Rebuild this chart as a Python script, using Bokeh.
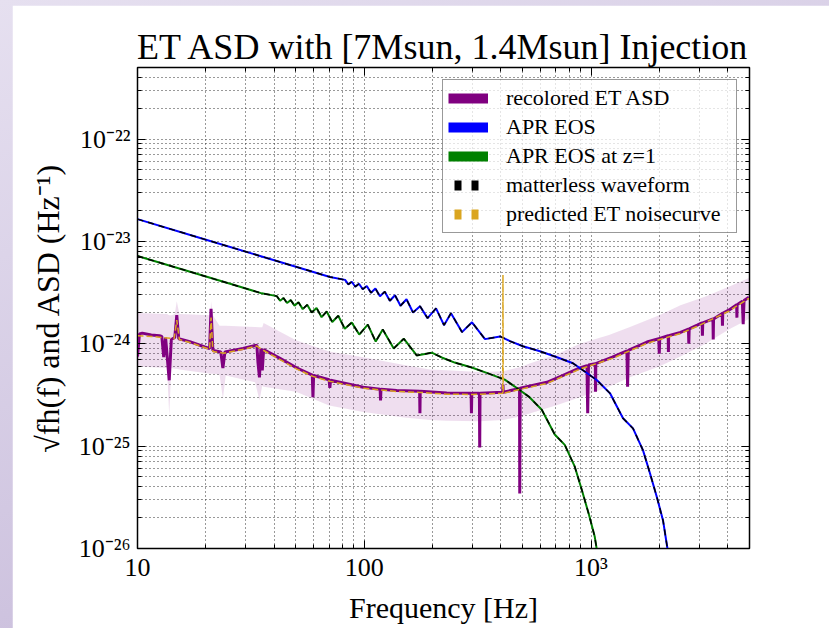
from bokeh.plotting import figure
from bokeh.models import (FixedTicker, CustomJSTickFormatter,
                          LogAxis, Legend, LegendItem, Range1d)
from bokeh.layouts import column
from bokeh.embed import file_html
from bokeh.resources import INLINE

# ---------------- data ----------------
title_text = "ET ASD with [7Msun, 1.4Msun] Injection"
x_label = "Frequency [Hz]"
y_label = "\u221afh(f) and ASD (Hz\u207b\u00b9)"
series_labels = ["recolored ET ASD", "APR EOS", "APR EOS at z=1",
                 "matterless waveform", "predicted ET noisecurve"]

x_major = [10, 100, 1000]
y_major = [1e-26, 1e-25, 1e-24, 1e-23, 1e-22]

# APR EOS (blue) and matterless waveform (black dashed on top of it)
apr_f = [10.0, 18.9, 34.7, 52.1, 70.6, 82.3, 85.1, 88.1, 91.3, 94.8,
         98.5, 102.6, 107.1, 112.0, 117.3, 123.2, 129.7, 136.6, 144.5, 153.6,
         164.1, 176.2, 190.1, 207.3, 224.7, 241.3, 269.8, 298.7, 340.8, 396.9,
         439.3, 501, 595.8, 708, 833, 922, 1063, 1213, 1384, 1532,
         1696, 1821, 1954, 2078, 2163, 2231]
apr_v = [1.65e-23, 1.08e-23, 7.21e-24, 5.50e-24, 4.49e-24, 4.21e-24, 3.80e-24, 4.04e-24, 3.61e-24, 3.86e-24,
         3.41e-24, 3.67e-24, 3.15e-24, 3.46e-24, 2.91e-24, 3.23e-24, 2.63e-24, 2.98e-24, 2.35e-24, 2.72e-24,
         2.02e-24, 2.33e-24, 1.78e-24, 2.22e-24, 1.52e-24, 1.99e-24, 1.30e-24, 1.62e-24, 1.11e-24, 1.18e-24,
         1.06e-24, 9.45e-25, 8.45e-25, 7.38e-25, 6.45e-25, 5.51e-25, 4.40e-25, 3.28e-25, 1.87e-25, 1.49e-25,
         9.09e-26, 5.41e-26, 3.15e-26, 1.88e-26, 1.07e-26, 6.82e-27]

# APR EOS at z=1 (green) and its matterless waveform
aprz_f = [10.0, 17.35, 26.05, 35.3, 41.15, 42.55, 44.05, 45.65, 47.4, 49.25,
          51.3, 53.55, 56.0, 58.65, 61.6, 64.85, 68.3, 72.25, 76.8, 82.05,
          88.1, 95.05, 103.65, 112.35, 120.65, 134.9, 149.35, 170.4, 198.45, 219.65,
          250.5, 297.9, 354, 416.5, 461, 531.5, 606.5, 692, 766, 848,
          910.5, 977, 1039, 1081.5, 1115.5]
aprz_v = [7.20e-24, 5.00e-24, 3.81e-24, 3.11e-24, 2.92e-24, 2.63e-24, 2.80e-24, 2.50e-24, 2.67e-24, 2.36e-24,
          2.54e-24, 2.18e-24, 2.40e-24, 2.02e-24, 2.24e-24, 1.82e-24, 2.07e-24, 1.63e-24, 1.88e-24, 1.40e-24,
          1.61e-24, 1.23e-24, 1.54e-24, 1.05e-24, 1.38e-24, 9.01e-25, 1.12e-24, 7.69e-25, 8.18e-25, 7.35e-25,
          6.55e-25, 5.86e-25, 5.11e-25, 4.47e-25, 3.82e-25, 3.05e-25, 2.27e-25, 1.30e-25, 1.03e-25, 6.30e-26,
          3.75e-26, 2.18e-26, 1.30e-26, 7.42e-27, 4.73e-27]

# recolored ET ASD (purple)
asd_f = [10.0, 10.2, 10.5, 11.5, 12.5, 12.8, 13.05, 13.3, 13.8, 14.1,
         14.6, 14.9, 15.2, 17.0, 19.8, 20.8, 21.1, 21.5, 23.3, 23.8,
         24.3, 29.2, 33.6, 34.0, 34.5, 35.0, 35.5, 36.0, 42.5, 50.5,
         59.0, 59.4, 59.8, 70.0, 70.5, 71.0, 99.0, 117.5, 118.0, 118.5,
         139.0, 175.5, 176.0, 176.5, 231.0, 296.0, 297.0, 298.0, 322.0, 323.0,
         324.0, 408.0, 409.0, 410.0, 484.0, 485.0, 487.0, 639.0, 753.0, 893.0,
         960.0, 967.0, 975.0, 1045.0, 1047.0, 1050.0, 1242.0, 1440.0, 1450.0, 1460.0,
         1766.0, 1990.0, 2000.0, 2010.0, 2190.0, 2195.0, 2200.0, 2480.0, 2690.0, 2700.0,
         2710.0, 2940.0, 3090.0, 3100.0, 3110.0, 3450.0, 3460.0, 3470.0, 3790.0, 3800.0,
         3810.0, 4050.0, 4390.0, 4400.0, 4410.0, 4650.0, 4690.0, 4730.0, 4970.0]
asd_v = [7.5e-25, 1.25e-24, 1.27e-24, 1.22e-24, 1.20e-24, 1.18e-24, 7.4e-25, 1.15e-24, 4.4e-25, 1.10e-24,
         1.15e-24, 1.9e-24, 1.12e-24, 1.05e-24, 9.3e-25, 9.0e-25, 2.2e-24, 8.6e-25, 8.3e-25, 5.8e-25,
         8.3e-25, 9.0e-25, 9.7e-25, 6.5e-25, 4.7e-25, 9.0e-25, 5.5e-25, 8.8e-25, 7.2e-25, 5.8e-25,
         4.95e-25, 3.0e-25, 4.9e-25, 4.45e-25, 3.7e-25, 4.4e-25, 3.76e-25, 3.6e-25, 2.8e-25, 3.6e-25,
         3.5e-25, 3.43e-25, 2.1e-25, 3.43e-25, 3.3e-25, 3.28e-25, 2.1e-25, 3.28e-25, 3.28e-25, 9.7e-26,
         3.28e-25, 3.36e-25, 4.0e-25, 3.36e-25, 3.66e-25, 3.45e-26, 3.68e-25, 4.2e-25, 4.9e-25, 5.8e-25,
         6.1e-25, 2.1e-25, 6.2e-25, 6.4e-25, 3.4e-25, 6.4e-25, 7.4e-25, 8.5e-25, 3.8e-25, 8.6e-25,
         1.04e-24, 1.12e-24, 8.0e-25, 1.13e-24, 1.2e-24, 8.3e-25, 1.2e-24, 1.29e-24, 1.39e-24, 1.0e-24,
         1.4e-24, 1.52e-24, 1.6e-24, 1.2e-24, 1.6e-24, 1.75e-24, 1.1e-24, 1.75e-24, 1.98e-24, 1.5e-24,
         1.98e-24, 2.13e-24, 2.4e-24, 1.8e-24, 2.4e-24, 2.6e-24, 1.55e-24, 2.65e-24, 2.85e-24]

# predicted ET noise curve (goldenrod dashed)
pred_f = [10.0, 12.0, 14.5, 14.9, 15.3, 17.0, 20.0, 20.8, 21.1, 21.5,
          24.0, 29.0, 33.6, 36.0, 42.5, 50.5, 59.4, 70.5, 99.0, 139.0,
          176.0, 231.0, 300.0, 408.0, 409.0, 410.0, 485.0, 639.0, 753.0, 893.0,
          1242.0, 1766.0, 2480.0, 2940.0, 4050.0, 4970.0]
pred_v = [1.2e-24, 1.17e-24, 1.12e-24, 1.7e-24, 1.1e-24, 1.03e-24, 9.1e-25, 8.8e-25, 1.8e-24, 8.4e-25,
          8.1e-25, 8.8e-25, 9.5e-25, 8.6e-25, 7.0e-25, 5.65e-25, 4.8e-25, 4.3e-25, 3.68e-25, 3.42e-25,
          3.35e-25, 3.22e-25, 3.2e-25, 3.28e-25, 4.7e-24, 3.28e-25, 3.58e-25, 4.1e-25, 4.8e-25, 5.65e-25,
          7.2e-25, 1.01e-24, 1.26e-24, 1.48e-24, 2.08e-24, 2.78e-24]

# spread of the ASD realisations (light purple band)
band_f = [10.0, 13.5, 13.8, 14.1, 14.6, 14.9, 15.3, 21.0, 21.1, 21.5,
          23.0, 23.8, 24.5, 33.0, 34.5, 35.5, 36.0, 50.0, 70.0, 99.0,
          150.0, 195.0, 231.0, 323.0, 408.0, 409.0, 410.0, 484.0, 485.0, 487.0,
          536.0, 700.0, 893.0, 1200.0, 1485.0, 2000.0, 2480.0, 3200.0, 4050.0, 4970.0]
band_hi = [2.0e-24, 1.95e-24, 1.9e-24, 1.9e-24, 1.95e-24, 2.6e-24, 1.95e-24, 1.9e-24, 2.6e-24, 1.9e-24,
           1.5e-24, 1.5e-24, 1.5e-24, 1.46e-24, 1.45e-24, 1.45e-24, 1.6e-24, 1.08e-24, 8.4e-25, 7.4e-25,
           6.2e-25, 5.6e-25, 5.5e-25, 5.3e-25, 5.4e-25, 4.7e-24, 5.4e-25, 5.9e-25, 5.9e-25, 5.9e-25,
           6.4e-25, 7.8e-25, 1.0e-24, 1.22e-24, 1.46e-24, 1.9e-24, 2.38e-24, 2.9e-24, 3.6e-24, 4.4e-24]
band_lo = [6.0e-25, 5.8e-25, 2.0e-25, 5.8e-25, 5.7e-25, 5.7e-25, 5.6e-25, 5.1e-25, 5.1e-25, 5.1e-25,
           5.0e-25, 2.9e-25, 4.9e-25, 4.2e-25, 2.8e-25, 3.9e-25, 3.8e-25, 3.4e-25, 2.5e-25, 2.15e-25,
           1.9e-25, 1.8e-25, 1.77e-25, 1.75e-25, 1.8e-25, 1.8e-25, 1.8e-25, 1.95e-25, 4.0e-26, 1.95e-25,
           2.08e-25, 2.5e-25, 3.0e-25, 3.8e-25, 4.7e-25, 6.0e-25, 7.5e-25, 1.0e-24, 1.38e-24, 1.75e-24]

# ---------------- styling ----------------
SERIF = "Liberation Serif"
PURPLE = "#800080"
BLUE = "#0000ff"
GREEN = "#008000"
GOLD = "#daa520"

x_minor = [k * 10.0 ** e for e in range(1, 4) for k in range(2, 10)]
y_minor = [k * 10.0 ** e for e in range(-26, -21) for k in range(2, 10)]
x_ticker = FixedTicker(ticks=x_major, minor_ticks=x_minor)
y_ticker = FixedTicker(ticks=y_major, minor_ticks=y_minor)

SUP = """const sup = {"-":"\u207b","0":"\u2070","1":"\u00b9","2":"\u00b2","3":"\u00b3",
"4":"\u2074","5":"\u2075","6":"\u2076","7":"\u2077","8":"\u2078","9":"\u2079"};"""
x_fmt = CustomJSTickFormatter(code=SUP + """
const e = Math.round(Math.log10(tick));
if (e <= 2) { return String(Math.round(tick)); }
return "10" + String(e).split("").map(c => sup[c]).join("");
""")
y_fmt = CustomJSTickFormatter(code=SUP + """
const e = Math.round(Math.log10(tick));
return "10" + String(e).split("").map(c => sup[c]).join("");
""")
blank_fmt = CustomJSTickFormatter(code="return '';")

p = figure(x_axis_type="log", y_axis_type="log",
           x_range=Range1d(10, 5000), y_range=Range1d(1e-26, 5e-22),
           frame_width=612, frame_height=481,
           min_border_left=125, min_border_right=80,
           min_border_top=62, min_border_bottom=80,
           output_backend="svg", toolbar_location=None,
           title=title_text, margin=(5, 0, 0, 12))

p.background_fill_color = "white"
p.border_fill_color = "white"
p.outline_line_color = "black"
p.outline_line_width = 1.5

p.title.text_font = SERIF
p.title.text_font_size = "36px"
p.title.text_font_style = "normal"
p.title.text_color = "black"
p.title.align = "center"
p.title.standoff = 2

xa = p.xaxis[0]
ya = p.yaxis[0]
xa.ticker = x_ticker
ya.ticker = y_ticker
xa.formatter = x_fmt
ya.formatter = y_fmt
xa.axis_label = x_label
ya.axis_label = y_label
for ax in (xa, ya):
    ax.major_tick_in = 8
    ax.major_tick_out = 0
    ax.minor_tick_in = 4
    ax.minor_tick_out = 0
    ax.axis_line_color = "black"
    ax.major_tick_line_color = "black"
    ax.minor_tick_line_color = "black"
    ax.major_label_text_font = SERIF
    ax.major_label_text_font_size = "26px"
    ax.major_label_text_color = "black"
    ax.axis_label_text_font = SERIF
    ax.axis_label_text_font_style = "normal"
    ax.axis_label_text_color = "black"
xa.axis_label_text_font_size = "30px"
ya.axis_label_text_font_size = "32px"
xa.major_label_standoff = 4
ya.major_label_standoff = 7
xa.axis_label_standoff = 6
ya.axis_label_standoff = 10

for side, tk in (("above", x_ticker), ("right", y_ticker)):
    extra = LogAxis(ticker=tk, formatter=blank_fmt,
                    major_tick_in=8, major_tick_out=0,
                    minor_tick_in=4, minor_tick_out=0,
                    major_label_text_font_size="1px", major_label_standoff=0,
                    axis_line_color="black")
    p.add_layout(extra, side)

p.xgrid.ticker = x_ticker
p.ygrid.ticker = y_ticker
for g in (p.xgrid, p.ygrid):
    g.grid_line_color = "#333333"
    g.grid_line_dash = "1 3"
    g.grid_line_width = 1
    g.minor_grid_line_color = "#333333"
    g.minor_grid_line_dash = "1 3"
    g.minor_grid_line_width = 1

# ---------------- glyphs ----------------
p.varea(x=band_f, y1=band_lo, y2=band_hi, fill_color=PURPLE, fill_alpha=0.13)
p.line(asd_f, asd_v, line_color=PURPLE, line_width=3)
p.line(apr_f, apr_v, line_color=BLUE, line_width=2)
p.line(aprz_f, aprz_v, line_color=GREEN, line_width=2)
p.line(apr_f, apr_v, line_color="black", line_width=1.5, line_dash="6 5")
p.line(aprz_f, aprz_v, line_color="black", line_width=1.5, line_dash="6 5")
p.line(pred_f, pred_v, line_color=GOLD, line_width=1.5, line_dash="6 3")

# legend handles: thick one-point samples (draw nothing in the frame)
h1 = p.line(asd_f[:1], asd_v[:1], line_color=PURPLE, line_width=10)
h2 = p.line(apr_f[:1], apr_v[:1], line_color=BLUE, line_width=10)
h3 = p.line(aprz_f[:1], aprz_v[:1], line_color=GREEN, line_width=10)
h4 = p.line(apr_f[:1], apr_v[:1], line_color="black", line_width=10,
            line_dash="7 10", line_dash_offset=11)
h5 = p.line(pred_f[:1], pred_v[:1], line_color=GOLD, line_width=10,
            line_dash="7 10", line_dash_offset=11)

legend = Legend(items=[LegendItem(label=lab, renderers=[r])
                       for lab, r in zip(series_labels, [h1, h2, h3, h4, h5])],
                location="top_right", margin=12, padding=5, spacing=3,
                glyph_width=40, glyph_height=26, label_height=26,
                label_width=225, label_standoff=18, label_text_font=SERIF,
                label_text_font_size="22px", label_text_color="black",
                border_line_color="#333333", border_line_width=1.5,
                background_fill_color="white", background_fill_alpha=0.75)
p.add_layout(legend)

page = column(p, styles={"background": "linear-gradient(160deg, #e6e0f0 0%, #d2c8e2 55%, #c2b4d6 100%)"})

open("out.html", "w").write(file_html(page, INLINE))
